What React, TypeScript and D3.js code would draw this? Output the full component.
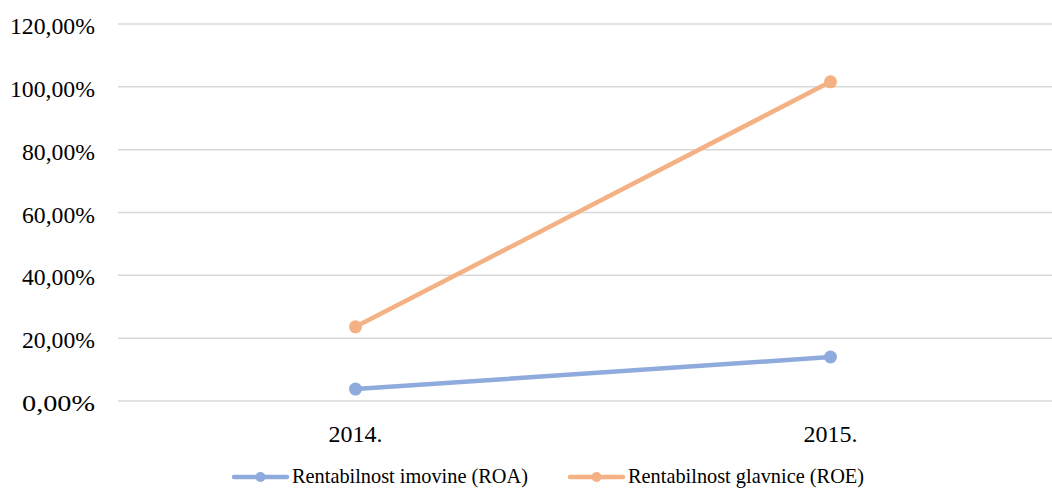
import * as d3 from "d3";

const years = ["2014.", "2015."];
const roa = [3.8, 14.0];
const roe = [23.6, 101.6];
const yTicks = [0, 20, 40, 60, 80, 100, 120];
const seriesNames = ["Rentabilnost imovine (ROA)", "Rentabilnost glavnice (ROE)"];
const seriesColors = ["#8FAADC", "#F4B183"];

const W = 1052;
const H = 490;
const FONT = "'Liberation Serif'";

const margin = { top: 24, right: -16, bottom: 89, left: 118 };
const innerW = W - margin.left - margin.right;
const innerH = H - margin.top - margin.bottom;

const x = d3.scaleBand().domain(years).range([0, innerW]);
const y = d3.scaleLinear().domain([0, 120]).range([innerH, 0]);
const cx = (i: number) => (x(years[i]) ?? 0) + x.bandwidth() / 2;

const line = d3.line<number>()
  .x((_, i) => cx(i))
  .y(d => y(d));

const legendX = [234, 570];
const legendY = 477;

export default function App() {
  return (
    <svg
      width={W}
      height={H}
      style={{ position: "absolute", left: 0, top: 0, background: "#fff" }}
    >
      <g transform={`translate(${margin.left},${margin.top})`}>
        {yTicks.map(t => (
          <line key={t} x1={0} x2={innerW} y1={y(t)} y2={y(t)} stroke="#D9D9D9" strokeWidth={1.5} />
        ))}
        {yTicks.map(t => (
          <text
            key={t}
            x={-23}
            y={y(t) + 10}
            textAnchor="end"
            fontFamily={FONT}
            fontSize={24}
            textLength={t < 100 ? 73 : 85}
            lengthAdjust="spacingAndGlyphs"
            fill="#000"
          >
            {t.toFixed(2).replace(".", ",") + "%"}
          </text>
        ))}
        {years.map((yr, i) => (
          <text key={yr} x={cx(i)} y={innerH + 41} textAnchor="middle" fontFamily={FONT} fontSize={24} fill="#000">
            {yr}
          </text>
        ))}
        {[roa, roe].map((vals, si) => (
          <g key={si}>
            <path
              d={line(vals) ?? ""}
              fill="none"
              stroke={seriesColors[si]}
              strokeWidth={4.5}
              strokeLinecap="round"
            />
            {vals.map((v, i) => (
              <circle key={i} cx={cx(i)} cy={y(v)} r={6.5} fill={seriesColors[si]} />
            ))}
          </g>
        ))}
      </g>
      {seriesNames.map((name, si) => (
        <g key={name} transform={`translate(${legendX[si]},${legendY})`}>
          <line x1={0} x2={53} y1={0} y2={0} stroke={seriesColors[si]} strokeWidth={4.5} strokeLinecap="round" />
          <circle cx={26.5} cy={0} r={5} fill={seriesColors[si]} />
          <text
            x={58}
            y={6}
            fontFamily={FONT}
            fontSize={22}
            textLength={236}
            lengthAdjust="spacingAndGlyphs"
            fill="#000"
          >
            {name}
          </text>
        </g>
      ))}
    </svg>
  );
}
